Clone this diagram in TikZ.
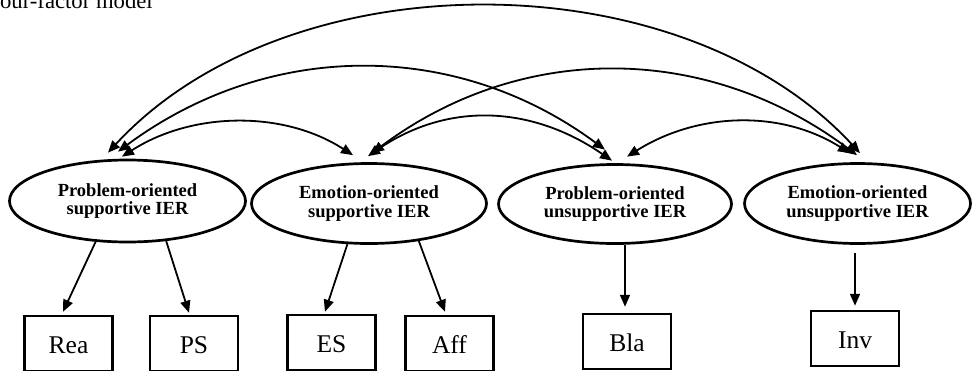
\documentclass[tikz,border=0pt]{standalone}
\usepackage{fontspec}
\setmainfont{Liberation Serif}
\usetikzlibrary{shapes.geometric,arrows.meta}
\begin{document}
\begin{tikzpicture}[x=1pt,y=-1pt,
  lat/.style={ellipse,draw,line width=2.7pt,inner sep=0pt,align=center,
    font=\fontsize{18.5}{18.5}\selectfont\bfseries},
  obs/.style={rectangle,draw,line width=2.5pt,minimum width=88pt,minimum height=55pt,
    inner sep=0pt,text height=19pt,text depth=0pt,font=\fontsize{25.5}{25.5}\selectfont},
  arr/.style={line width=1.8pt,-{Triangle[length=12pt,width=10pt]}},
  cov/.style={line width=1.8pt,{Triangle[length=12pt,width=10pt]}-{Triangle[length=12pt,width=10pt]}}]
\useasboundingbox (0,0) rectangle (974,370);

% title (cut at the page edge as in the reference)
\node[anchor=base east,inner sep=0pt,font=\fontsize{22.7}{24}\selectfont] (title) at (153,8) {Four-factor model};

% latent factors
\node[lat,minimum width=236pt,minimum height=82pt] (e1) at (127.5,201) {Problem-oriented\\supportive IER};
\node[lat,minimum width=235pt,minimum height=80pt] (e2) at (369,203.5) {Emotion-oriented\\supportive IER};
\node[lat,minimum width=233pt,minimum height=79pt] (e3) at (615,204) {Problem-oriented\\unsupportive IER};
\node[lat,minimum width=226pt,minimum height=80pt] (e4) at (857.5,203.5) {Emotion-oriented\\unsupportive IER};

% indicators
\node[obs] (rea) at (68.5,343.5) {Rea};
\node[obs] (ps)  at (194,343.5) {PS};
\node[obs] (es)  at (331.5,342.5) {ES};
\node[obs] (aff) at (449.5,343.5) {Aff};
\node[obs] (bla) at (627,341.5) {Bla};
\node[obs] (inv) at (855,338.5) {Inv};

% loadings
\draw[arr] (e1.232) -- ([shift={(-5.5,-3)}]rea.north);
\draw[arr] (e1.314) -- ([shift={(-5,-2)}]ps.north);
\draw[arr] (e2.242) -- ([shift={(-6.5,-2)}]es.north);
\draw[arr] (e2.323) -- ([shift={(-4.5,-3)}]aff.north);
\draw[arr] ([shift={(10,0)}]e3.south) -- ([shift={(-2,-6)}]bla.north);
\draw[arr] ([shift={(-2.5,8.5)}]e4.south) -- ([shift={(0,-4)}]inv.north);

% covariances
\draw[cov] ([shift={(-5.5,-2)}]e1.north) .. controls +(70,-45) and +(-70,-45) .. ([shift={(-16,-7)}]e2.north);
\draw[cov] ([shift={(-9.5,-7)}]e1.north) .. controls +(150,-111) and +(-150,-111) .. ([shift={(-10,-13.5)}]e3.north);
\draw[cov] ([shift={(-19.5,-6)}]e1.north) .. controls +(180,-195) and +(-180,-195) .. ([shift={(2.5,-9)}]e4.north);
\draw[cov] ([shift={(-1,-6)}]e2.north) .. controls +(80,-55) and +(-80,-55) .. ([shift={(-3,-2.5)}]e3.north);
\draw[cov] ([shift={(3,-9)}]e2.north) .. controls +(150,-112) and +(-150,-112) .. ([shift={(-0.5,-7)}]e4.north);
\draw[cov] ([shift={(12,-6.5)}]e3.north) .. controls +(70,-44) and +(-70,-44) .. ([shift={(-7.5,-9)}]e4.north);
\end{tikzpicture}
\end{document}
